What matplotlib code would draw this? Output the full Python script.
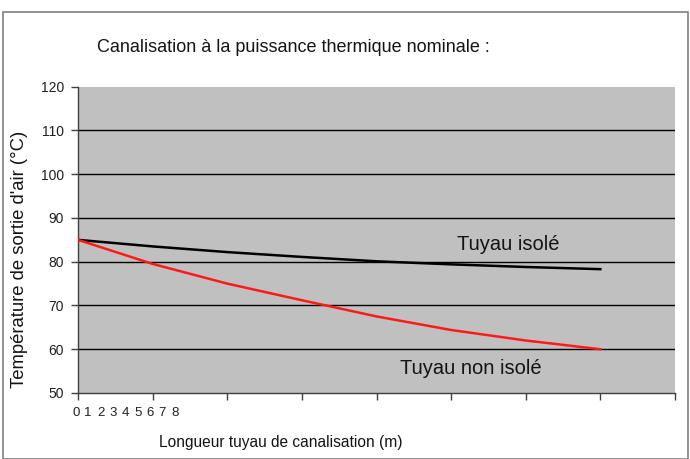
import matplotlib
matplotlib.use("Agg")
import matplotlib.pyplot as plt
from matplotlib.patches import Rectangle

plt.rcParams['font.family'] = ['Liberation Sans', 'DejaVu Sans']

x = [0, 1, 2, 3, 4, 5, 6, 7]
isole = [85, 83.5, 82.2, 81.1, 80.1, 79.4, 78.8, 78.3]
non_isole = [85, 79.5, 75.0, 71.2, 67.5, 64.4, 62.0, 60.0]
x_labels = ['0', '1', '2', '3', '4', '5', '6', '7', '8']
y_ticks = [50, 60, 70, 80, 90, 100, 110, 120]

title = "Canalisation à la puissance thermique nominale :"
xlabel = "Longueur tuyau de canalisation (m)"
ylabel = "Température de sortie d'air (°C)"

fig = plt.figure(figsize=(6.9, 4.59), dpi=100)
fig.patch.set_facecolor('white')
ax = fig.add_axes([78/690, 1-393/459, (675-78)/690, (393-86.7)/459])
ax.set_facecolor('#c0c0c0')

for yv in y_ticks[1:-1]:
    ax.axhline(yv, color='black', lw=1.0, zorder=1)

ax.plot(x, isole, color='black', lw=1.8, zorder=3)
ax.plot(x, non_isole, color='#ff1a1a', lw=1.8, zorder=3)

ax.set_xlim(0, 8)
ax.set_ylim(50, 120)
ax.set_yticks(y_ticks)
ax.set_yticklabels([str(v) for v in y_ticks], fontsize=10, color='#202020')
ax.set_xticks(range(9))
ax.set_xticklabels([''] * 9)
ax.tick_params(axis='both', direction='out', length=5, width=1, color='#404040', pad=4)
ax.tick_params(axis='y', pad=5)

for s in ['top', 'right']:
    ax.spines[s].set_visible(False)
for s in ['left', 'bottom']:
    ax.spines[s].set_color('#404040')
    ax.spines[s].set_linewidth(1.0)

# crammed category labels
for i, lab in enumerate(x_labels):
    ax.text(-0.03 + i * 0.166, -0.065, lab, transform=ax.get_xaxis_transform(),
            ha='center', va='center', fontsize=9.5, color='#202020')

ax.text(5.76, 83.9, "Tuyau isolé", ha='center', va='center', fontsize=14.5, color='#141414')
ax.text(5.26, 55.7, "Tuyau non isolé", ha='center', va='center', fontsize=14.5, color='#141414')

fig.text(97/690, 1-47/459, title, ha='left', va='center', fontsize=13, color='#141414')
fig.text(159/690, 1-442/459, xlabel, ha='left', va='center', fontsize=11.2, color='#141414')
fig.text(20/690, 1-259/459, ylabel, ha='center', va='center', rotation=90, fontsize=13.3,
         color='#141414')

fig.patches.append(Rectangle((3/690, 0), (688-3)/690, 1-12/459, transform=fig.transFigure,
                             fill=False, edgecolor='#808080', lw=1.2))

fig.savefig('out.png', dpi=100)
